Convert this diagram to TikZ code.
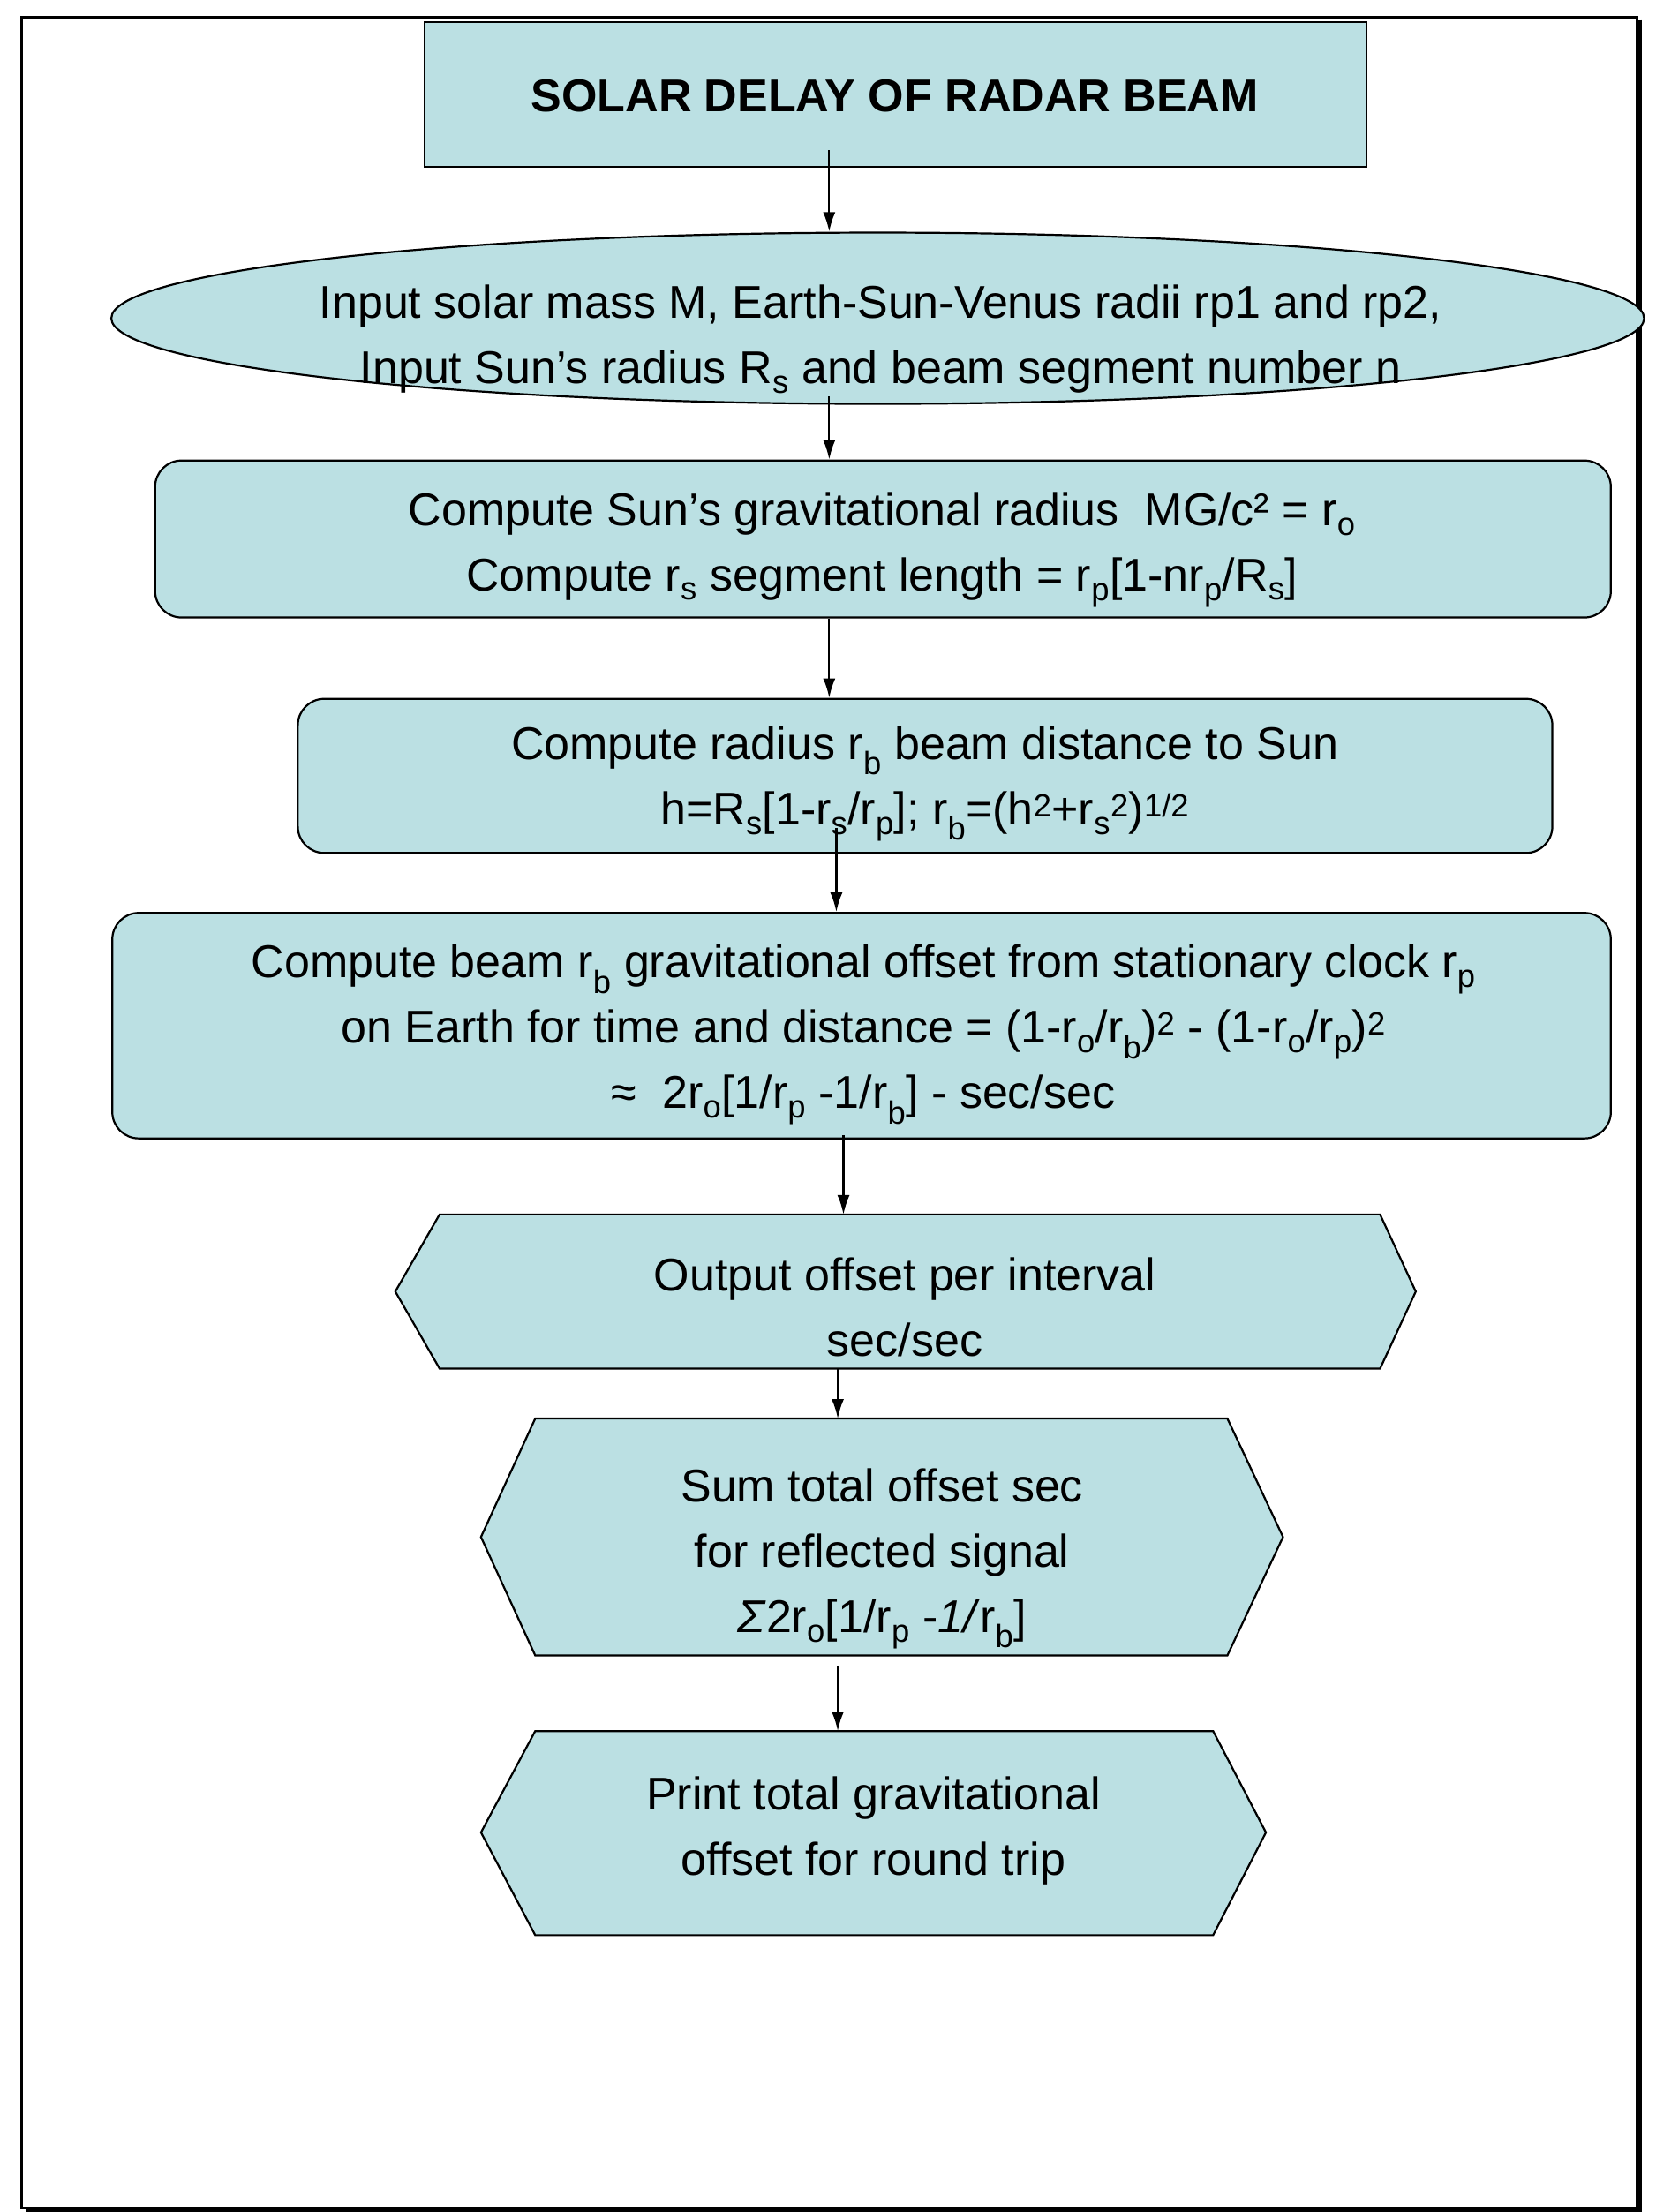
\documentclass[tikz,border=0pt]{standalone}
\usepackage{fontspec}
\setmainfont{Liberation Sans}
\usetikzlibrary{shapes.geometric,arrows.meta}
\definecolor{boxfill}{HTML}{BBE0E3}
\tikzset{
  shp/.style={draw=black,fill=boxfill,line width=2.2pt},
  txt/.style={align=center,font=\fontsize{52}{74}\selectfont,inner sep=0pt},
  arr/.style={-{Latex[length=22pt,width=14pt]},line width=2.2pt},
  rbox/.style={shp,rounded corners=30pt}
}
\begin{document}
\begin{tikzpicture}[x=1.617pt,y=-1.617pt]
\useasboundingbox (0,0) rectangle (1160,1550);
% frame with shadow
\draw[line width=3pt] (15,12) rectangle (1147,1547);
\draw[line width=5pt] (1149,14) -- (1149,1549) -- (18,1549);
% title
\node[shp,minimum width=660*1.617pt,minimum height=101*1.617pt,anchor=north west,inner sep=0pt] (title) at (297,15) {};
\node[txt,font=\fontsize{52}{70}\selectfont\bfseries] (titletxt) at (627,67) {SOLAR DELAY OF RADAR BEAM};
% ellipse
\node[shp,ellipse,minimum width=1074*1.617pt,minimum height=120*1.617pt,inner sep=0pt] (inp) at (615,223) {};
\node[txt] (inptxt) at (617,238) {Input solar mass M, Earth-Sun-Venus radii rp1 and rp2,\\Input Sun’s radius R\textsubscript{s} and beam segment number n};
% box 2
\node[rbox,minimum width=1020*1.617pt,minimum height=110*1.617pt,anchor=north west,inner sep=0pt] (b2) at (108,322) {};
\node[txt] (b2txt) at (618,385) {Compute Sun’s gravitational radius\ \ MG/c² = r\textsubscript{o}\\Compute r\textsubscript{s} segment length = r\textsubscript{p}[1-nr\textsubscript{p}/R\textsubscript{s}]};
% box 3
\node[rbox,minimum width=879*1.617pt,minimum height=108*1.617pt,anchor=north west,inner sep=0pt] (b3) at (208,489) {};
% box 4
\node[rbox,minimum width=1050*1.617pt,minimum height=158*1.617pt,anchor=north west,inner sep=0pt] (b4) at (78,639) {};
% hexagons
\draw[shp] (277,905) -- (308,851) -- (967,851) -- (992,905) -- (967,959) -- (308,959) -- cycle;
\draw[shp] (337,1077) -- (375,994) -- (860,994) -- (899,1077) -- (860,1160) -- (375,1160) -- cycle;
\draw[shp] (337,1284) -- (375,1213) -- (850,1213) -- (887,1284) -- (850,1356) -- (375,1356) -- cycle;
\coordinate (h5t) at (591,851); \coordinate (h5b) at (587,959);
\coordinate (h6t) at (587,994); \coordinate (h6b) at (587,1167);
\coordinate (h7t) at (587,1213);
\coordinate (b3s) at (586,580);
\node[txt] (h5txt) at (634,916) {Output offset per interval\\sec/sec};
\node[txt] (h6txt) at (618,1092) {Sum total offset sec\\for reflected signal\\\textit{Σ}2r\textsubscript{o}[1/r\textsubscript{p} -\textit{1/}r\textsubscript{b}]};
\node[txt] (h7txt) at (612,1283) {Print total gravitational\\offset for round trip};
% arrows
\draw[arr] (title.south -| 581,0) ++(0,-12) -- (inp.north -| 581,0);
\draw[arr] (581,278) -- (b2.north -| 581,0);
\draw[arr] (b2.south -| 581,0) -- (b3.north -| 581,0);
\draw[arr] (b3s) -- (b4.north -| 586,0);
\draw[arr] (b4.south -| 591,0) ++(0,-3) -- (h5t);
\draw[arr] (h5b) -- (h6t);
\draw[arr] (h6b) -- (h7t);
% texts on top of arrows
\node[txt] (b3txt) at (648,549) {Compute radius r\textsubscript{b} beam distance to Sun\\h=R\textsubscript{s}[1-r\textsubscript{s}/r\textsubscript{p}]; r\textsubscript{b}=(h\textsuperscript{2}+r\textsubscript{s}\textsuperscript{2})\textsuperscript{1/2}};
\node[txt] (b4txt) at (605,725) {Compute beam r\textsubscript{b} gravitational offset from stationary clock r\textsubscript{p}\\on Earth for time and distance = (1-r\textsubscript{o}/r\textsubscript{b})\textsuperscript{2} - (1-r\textsubscript{o}/r\textsubscript{p})\textsuperscript{2}\\≈\ \ 2r\textsubscript{o}[1/r\textsubscript{p} -1/r\textsubscript{b}] - sec/sec};
\end{tikzpicture}
\end{document}
